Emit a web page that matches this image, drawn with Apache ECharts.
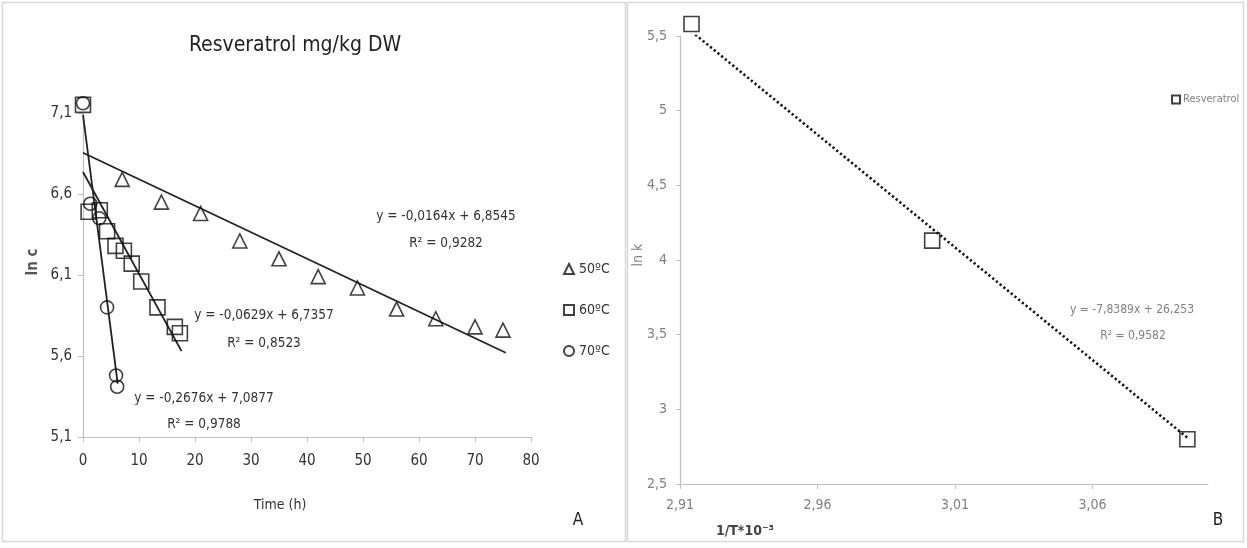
<!DOCTYPE html>
<html>
<head>
<meta charset="utf-8">
<script src="https://cdn.jsdelivr.net/npm/echarts@6/dist/echarts.min.js"></script>
<style>
html,body{margin:0;padding:0;background:#fff;}
#c{width:1247px;height:548px;}
</style>
</head>
<body>
<div id="c"></div>
<script>
// ---- Panel A data (ln c vs time) ----
var t50 = [7, 14, 21, 28, 35, 42, 49, 56, 63, 70, 75];
var lnc50 = [6.69, 6.55, 6.48, 6.31, 6.20, 6.09, 6.02, 5.89, 5.83, 5.78, 5.76];
var t60 = [0, 1, 3, 4.3, 5.8, 7.3, 8.7, 10.4, 13.3, 16.4, 17.3];
var lnc60 = [7.15, 6.49, 6.50, 6.37, 6.28, 6.25, 6.17, 6.06, 5.90, 5.78, 5.74];
var t70 = [0, 1.3, 2.9, 4.3, 5.9, 6.1];
var lnc70 = [7.16, 6.54, 6.45, 5.90, 5.48, 5.41];
var trend50 = [[0, 6.855], [75.5, 5.62]];
var trend60 = [[0, 6.736], [17.6, 5.63]];
var trend70 = [[0, 7.088], [6.2, 5.43]];
var seriesNamesA = ['50ºC', '60ºC', '70ºC'];
var eqA = ['y = -0,0164x + 6,8545', 'R² = 0,9282',
           'y = -0,0629x + 6,7357', 'R² = 0,8523',
           'y = -0,2676x + 7,0877', 'R² = 0,9788'];
var xTicksA = [0, 10, 20, 30, 40, 50, 60, 70, 80];
var yTicksA = [5.1, 5.6, 6.1, 6.6, 7.1];

// ---- Panel B data (ln k vs 1/T) ----
var invT = [2.9142, 3.0017, 3.0945];
var lnk = [5.58, 4.13, 2.80];
var trendB = [[2.9142, 5.53], [3.0945, 2.81]];
var eqB = ['y = -7,8389x + 26,253', 'R² = 0,9582'];
var xTicksB = [2.91, 2.96, 3.01, 3.06];
var yTicksB = [2.5, 3, 3.5, 4, 4.5, 5, 5.5];

function pairs(xs, ys){ return xs.map(function(x,i){return [x, ys[i]];}); }
function comma(v, d){ return v.toFixed(d).replace('.', ','); }

var FONT = "'Liberation Sans Narrow', 'DejaVu Sans Condensed', 'Open Sans', sans-serif";
var markStyle = {color: 'rgba(255,255,255,0)', borderColor: '#111', borderWidth: 1.6};

var chart = echarts.init(document.getElementById('c'), null, {renderer: 'canvas'});
chart.setOption({
  animation: false,
  backgroundColor: '#fff',
  textStyle: {fontFamily: FONT},
  grid: [
    {left: 83, top: 113, width: 448, height: 324},
    {left: 680, top: 36, width: 528, height: 448}
  ],
  xAxis: [
    {type: 'value', gridIndex: 0, min: 0, max: 80, interval: 10,
     axisLine: {lineStyle: {color: '#bfbfbf', width: 1.2}},
     axisTick: {show: true, length: 5, lineStyle: {color: '#bfbfbf'}},
     splitLine: {show: false},
     axisLabel: {color: '#333', fontSize: 15, margin: 17, fontFamily: FONT,
       formatter: function(v){ return xTicksA.indexOf(v) >= 0 ? String(v) : ''; }}},
    {type: 'value', gridIndex: 1, min: 2.91, max: 3.102, interval: 0.05,
     axisLine: {lineStyle: {color: '#bfbfbf', width: 1.2}},
     axisTick: {show: true, length: 5, lineStyle: {color: '#bfbfbf'}},
     splitLine: {show: false},
     axisLabel: {color: '#808080', fontSize: 14, margin: 14, fontFamily: FONT, showMaxLabel: false,
       formatter: function(v){
         for (var i=0;i<xTicksB.length;i++){ if (Math.abs(xTicksB[i]-v) < 1e-6) return comma(xTicksB[i],2); }
         return '';
       }}}
  ],
  yAxis: [
    {type: 'value', gridIndex: 0, min: 5.1, max: 7.1, interval: 0.5,
     axisLine: {show: true, lineStyle: {color: '#bfbfbf', width: 1.2}},
     axisTick: {show: true, length: 5, lineStyle: {color: '#bfbfbf'}},
     splitLine: {show: false},
     axisLabel: {color: '#333', fontSize: 15, margin: 11, fontFamily: FONT,
       formatter: function(v){
         for (var i=0;i<yTicksA.length;i++){ if (Math.abs(yTicksA[i]-v) < 1e-6) return comma(yTicksA[i],1); }
         return '';
       }}},
    {type: 'value', gridIndex: 1, min: 2.5, max: 5.5, interval: 0.5,
     axisLine: {show: true, lineStyle: {color: '#bfbfbf', width: 1.2}},
     axisTick: {show: true, length: 4, lineStyle: {color: '#bfbfbf'}},
     splitLine: {show: false},
     axisLabel: {color: '#808080', fontSize: 14, margin: 13, fontFamily: FONT,
       formatter: function(v){
         for (var i=0;i<yTicksB.length;i++){ if (Math.abs(yTicksB[i]-v) < 1e-6) return String(yTicksB[i]).replace('.', ','); }
         return '';
       }}}
  ],
  legend: [
    {orient: 'vertical', left: 558, top: 257, itemGap: 27, itemWidth: 10, itemHeight: 10,
     data: seriesNamesA, textStyle: {color: '#333', fontSize: 14, fontFamily: FONT}},
    {orient: 'vertical', left: 1166, top: 89, itemWidth: 8, itemHeight: 8, itemGap: 4,
     data: ['Resveratrol'], textStyle: {color: '#808080', fontSize: 11, fontFamily: FONT, padding: [0,0,0,-2]}}
  ],
  series: [
    {type: 'line', xAxisIndex: 0, yAxisIndex: 0, data: trend50, showSymbol: false, symbol: 'none',
     lineStyle: {color: '#222', width: 1.8}, silent: true, z: 3},
    {type: 'line', xAxisIndex: 0, yAxisIndex: 0, data: trend60, showSymbol: false, symbol: 'none',
     lineStyle: {color: '#222', width: 1.8}, silent: true, z: 3},
    {type: 'line', xAxisIndex: 0, yAxisIndex: 0, data: trend70, showSymbol: false, symbol: 'none',
     lineStyle: {color: '#222', width: 1.8}, silent: true, z: 3},
    {name: seriesNamesA[0], type: 'scatter', xAxisIndex: 0, yAxisIndex: 0, data: pairs(t50, lnc50),
     symbol: 'triangle', symbolSize: [14, 14], itemStyle: markStyle, clip: false, z: 4},
    {name: seriesNamesA[1], type: 'scatter', xAxisIndex: 0, yAxisIndex: 0, data: pairs(t60, lnc60),
     symbol: 'rect', symbolSize: 15, itemStyle: markStyle, clip: false, z: 4},
    {name: seriesNamesA[2], type: 'scatter', xAxisIndex: 0, yAxisIndex: 0, data: pairs(t70, lnc70),
     symbol: 'circle', symbolSize: 13, itemStyle: markStyle, clip: false, z: 4},
    {type: 'line', xAxisIndex: 1, yAxisIndex: 1, data: trendB, showSymbol: false, symbol: 'none',
     lineStyle: {color: '#111', width: 2.6, type: [2.2, 2.6]}, silent: true, z: 3},
    {name: 'Resveratrol', type: 'scatter', xAxisIndex: 1, yAxisIndex: 1, data: pairs(invT, lnk),
     symbol: 'rect', symbolSize: 15, itemStyle: markStyle, clip: false, z: 4}
  ],
  graphic: [
    {type: 'rect', shape: {x: 2.5, y: 2.5, width: 623, height: 539}, style: {fill: 'none', stroke: '#d9d9d9', lineWidth: 1.5}, silent: true},
    {type: 'rect', shape: {x: 627.5, y: 2.5, width: 616, height: 539}, style: {fill: 'none', stroke: '#d9d9d9', lineWidth: 1.5}, silent: true},
    {type: 'text', x: 295, y: 46, style: {text: 'Resveratrol mg/kg DW', font: '21px ' + FONT, fill: '#222', textAlign: 'center', textVerticalAlign: 'middle'}},
    {type: 'text', x: 33, y: 262, rotation: Math.PI/2, style: {text: 'ln c', font: 'bold 15px ' + FONT, fill: '#555', textAlign: 'center', textVerticalAlign: 'middle'}},
    {type: 'text', x: 280, y: 505, style: {text: 'Time (h)', font: '14px ' + FONT, fill: '#333', textAlign: 'center', textVerticalAlign: 'middle'}},
    {type: 'text', x: 578, y: 521, style: {text: 'A', font: '17px ' + FONT, fill: '#222', textAlign: 'center', textVerticalAlign: 'middle'}},
    {type: 'text', x: 446, y: 216, style: {text: eqA[0], font: '13.5px ' + FONT, fill: '#333', textAlign: 'center', textVerticalAlign: 'middle'}},
    {type: 'text', x: 446, y: 243, style: {text: eqA[1], font: '13.5px ' + FONT, fill: '#333', textAlign: 'center', textVerticalAlign: 'middle'}},
    {type: 'text', x: 264, y: 315, style: {text: eqA[2], font: '13.5px ' + FONT, fill: '#333', textAlign: 'center', textVerticalAlign: 'middle'}},
    {type: 'text', x: 264, y: 343, style: {text: eqA[3], font: '13.5px ' + FONT, fill: '#333', textAlign: 'center', textVerticalAlign: 'middle'}},
    {type: 'text', x: 204, y: 398, style: {text: eqA[4], font: '13.5px ' + FONT, fill: '#333', textAlign: 'center', textVerticalAlign: 'middle'}},
    {type: 'text', x: 204, y: 424, style: {text: eqA[5], font: '13.5px ' + FONT, fill: '#333', textAlign: 'center', textVerticalAlign: 'middle'}},
    {type: 'text', x: 638, y: 255, rotation: Math.PI/2, style: {text: 'ln k', font: '14px ' + FONT, fill: '#808080', textAlign: 'center', textVerticalAlign: 'middle'}},
    {type: 'text', x: 745, y: 531, style: {text: '1/T*10⁻³', font: 'bold 14px ' + FONT, fill: '#444', textAlign: 'center', textVerticalAlign: 'middle'}},
    {type: 'text', x: 1218, y: 521, style: {text: 'B', font: '17px ' + FONT, fill: '#222', textAlign: 'center', textVerticalAlign: 'middle'}},
    {type: 'text', x: 1132, y: 310, style: {text: eqB[0], font: '12px ' + FONT, fill: '#808080', textAlign: 'center', textVerticalAlign: 'middle'}},
    {type: 'text', x: 1133, y: 336, style: {text: eqB[1], font: '12px ' + FONT, fill: '#808080', textAlign: 'center', textVerticalAlign: 'middle'}}
  ]
});
</script>
</body>
</html>
